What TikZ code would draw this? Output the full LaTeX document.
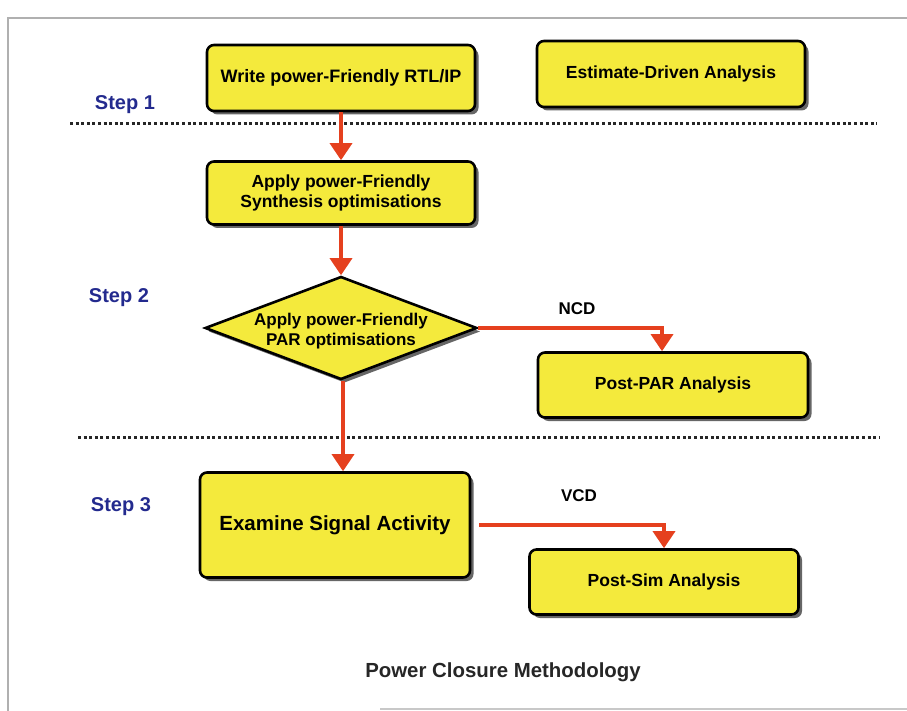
\documentclass[tikz,border=0pt]{standalone}
\usepackage{fontspec}
\setmainfont{Liberation Sans}
\usetikzlibrary{shapes.geometric,arrows.meta,shadows}
\definecolor{boxyellow}{HTML}{F4EA3C}
\definecolor{arrred}{HTML}{E5401E}
\definecolor{stepblue}{HTML}{232A8E}
\definecolor{framegray}{HTML}{B0B0B0}
\tikzset{
  pbox/.style={draw=black, line width=2.6pt, fill=boxyellow, rounded corners=7pt,
    align=center, font=\fontsize{17.5}{20.5}\selectfont\bfseries, inner sep=0pt,
    drop shadow={shadow xshift=3.5pt, shadow yshift=-3.5pt, fill=black!60, opacity=1}},
  pdiamond/.style={diamond, draw=black, line width=2.6pt, fill=boxyellow, inner sep=0pt,
    drop shadow={shadow xshift=3.5pt, shadow yshift=-3.5pt, fill=black!60, opacity=1}},
  dtext/.style={align=center, font=\fontsize{17}{20}\selectfont\bfseries},
  arr/.style={draw=arrred, line width=3.4pt, -{Triangle[length=17pt,width=22pt]}},
  steplabel/.style={text=stepblue, font=\fontsize{20}{22}\selectfont\bfseries},
  flowlabel/.style={font=\fontsize{17}{20}\selectfont\bfseries},
  dotline/.style={line width=3pt, dash pattern=on 3pt off 2.6pt, black!85},
  framel/.style={draw=framegray, line width=1.3pt}
}
\begin{document}
\begin{tikzpicture}[x=1pt,y=-1pt]
\useasboundingbox (0,0) rectangle (907,711);
% frame of the scanned page
\draw[framel] (8,711) -- (8,18) -- (907,18);
\draw[framel, draw=framegray!70] (380,709) -- (907,709);
% step separators
\draw[dotline] (70,124) -- (877,124);
\draw[dotline] (78,437) -- (880,437);
% step labels
\node[steplabel] (s1) at (125,105) {Step 1};
\node[steplabel] (s2) at (119,298) {Step 2};
\node[steplabel] (s3) at (121,507) {Step 3};
% boxes
\node[pbox, minimum width=268pt, minimum height=66pt, font=\fontsize{18}{21}\selectfont\bfseries] (b1) at (341,78) {Write power-Friendly RTL/IP};
\node[pbox, minimum width=268pt, minimum height=66pt] (b2) at (671,74) {Estimate-Driven Analysis};
\node[pbox, minimum width=268pt, minimum height=63pt] (b3) at (341,193) {Apply power-Friendly\\Synthesis optimisations};
\node[pdiamond, minimum width=272pt, minimum height=103pt] (d) at (341,328) {};
\node[dtext] (dt) at ([yshift=-3pt]d.center) {Apply power-Friendly\\PAR optimisations};
\node[pbox, minimum width=270pt, minimum height=65pt] (pp) at (673,385) {Post-PAR Analysis};
\node[pbox, minimum width=270pt, minimum height=105pt, font=\fontsize{20.5}{24}\selectfont\bfseries] (ex) at (335,525) {Examine Signal Activity};
\node[pbox, minimum width=269pt, minimum height=65pt] (ps) at (664,582) {Post-Sim Analysis};
% connectors
\draw[arr] (b1.south) -- (b3.north);
\draw[arr] (b3.south) -- (d.north);
\draw[arr] ([xshift=2pt]d.south) -- ([xshift=2pt]d.south |- ex.north);
\draw[arr] (d.east) -| ([xshift=-11pt]pp.north);
\draw[arr] ([xshift=8pt]ex.east) -| (ps.north);
% connector labels
\node[flowlabel] (ncd) at (577,309) {NCD};
\node[flowlabel] (vcd) at (579,496) {VCD};
% caption
\node[font=\fontsize{20.4}{24}\selectfont\bfseries, text=black!85] (cap) at (503,672) {Power Closure Methodology};
\end{tikzpicture}
\end{document}
